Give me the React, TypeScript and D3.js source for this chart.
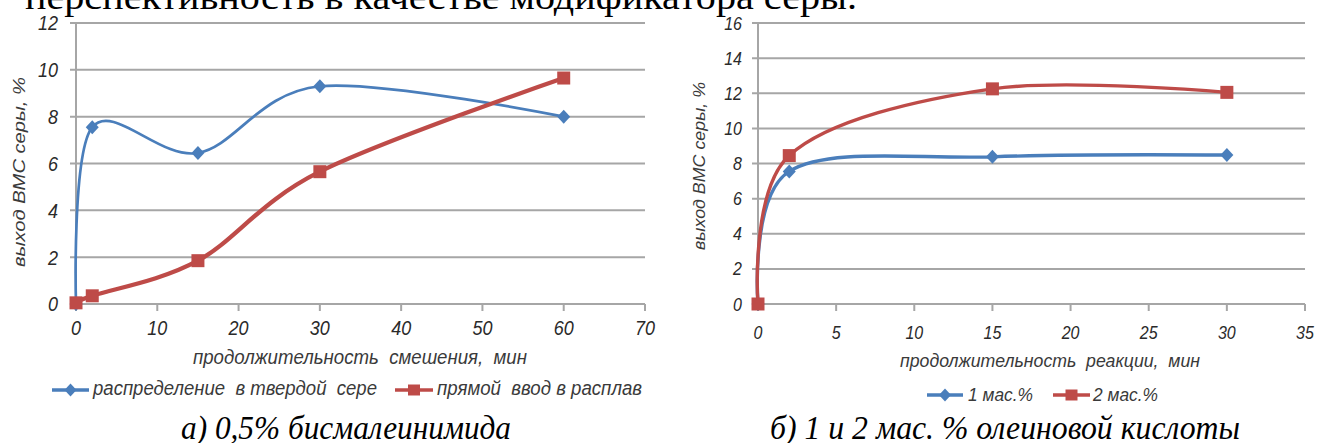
import { useEffect, useRef } from "react";
import * as d3 from "d3";

// panel а) 0,5% бисмалеинимида
const leftTimes = [0, 2, 15, 30, 60];
const leftSolid = [0, 7.55, 6.45, 9.3, 8.0];
const leftMelt = [0.05, 0.35, 1.85, 5.65, 9.65];
const leftXTicks = [0, 10, 20, 30, 40, 50, 60, 70];
const leftYTicks = [0, 2, 4, 6, 8, 10, 12];
const leftNames = ["распределение  в твердой  сере", "прямой  ввод в расплав"];

// panel б) олеиновая кислота
const rightTimes = [0, 2, 15, 30];
const rightOne = [0, 7.55, 8.38, 8.48];
const rightTwo = [0, 8.45, 12.25, 12.05];
const rightXTicks = [0, 5, 10, 15, 20, 25, 30, 35];
const rightYTicks = [0, 2, 4, 6, 8, 10, 12, 14, 16];
const rightNames = ["1 мас.%", "2 мас.%"];

const topLine = "перспективность в качестве модификатора серы.";
const captions = ["а) 0,5% бисмалеинимида", "б) 1 и 2 мас. % олеиновой кислоты"];

const BLUE = "#4a7ebb";
const RED = "#be4b48";
const GRID = "#a6a6a6";
const INK = "#3a3a3a";
const S = 1.15; // the picture is a bit stretched vertically

function addText(g, str, x, y, o = {}) {
  const rot = o.rotate;
  const t = g
    .append("text")
    .attr(
      "transform",
      rot
        ? `translate(${x},${y}) rotate(-90) scale(${S},1)`
        : `translate(${x},${y}) scale(1,${S})`
    )
    .attr("font-family", o.family || "'Liberation Sans', Arial, sans-serif")
    .attr("font-style", o.italic === false ? "normal" : "italic")
    .attr("font-size", o.size || 17)
    .attr("fill", o.fill || INK)
    .attr("text-anchor", o.anchor || "start")
    .style("white-space", "pre")
    .text(str);
  if (o.length) {
    t.attr("textLength", rot ? o.length / S : o.length).attr("lengthAdjust", "spacingAndGlyphs");
  }
  return t;
}

function diamond(w, h) {
  return `M0,${-h}L${w},0L0,${h}L${-w},0Z`;
}

function drawPanel(svg, p) {
  const x = d3.scaleLinear().domain([p.xTicks[0], p.xTicks[p.xTicks.length - 1]]).range([p.left, p.right]);
  const y = d3.scaleLinear().domain([p.yTicks[0], p.yTicks[p.yTicks.length - 1]]).range([p.bottom, p.top]);
  const g = svg.append("g");

  g.selectAll(".grid")
    .data(p.yTicks)
    .join("line")
    .attr("x1", p.left - 6)
    .attr("x2", p.right)
    .attr("y1", (d) => y(d))
    .attr("y2", (d) => y(d))
    .attr("stroke", GRID)
    .attr("stroke-width", 2);

  g.append("line")
    .attr("x1", p.left)
    .attr("x2", p.left)
    .attr("y1", y(p.yTicks[p.yTicks.length - 1]))
    .attr("y2", p.bottom)
    .attr("stroke", GRID)
    .attr("stroke-width", 2);

  g.selectAll(".xtick")
    .data(p.xTicks)
    .join("line")
    .attr("x1", (d) => x(d))
    .attr("x2", (d) => x(d))
    .attr("y1", p.bottom)
    .attr("y2", p.bottom + 7)
    .attr("stroke", GRID)
    .attr("stroke-width", 2);

  p.yTicks.forEach((v) => {
    addText(g, String(v), p.left - p.yLabelGap, y(v) + p.tickSize * 0.72 * S * 0.5, {
      anchor: "end",
      size: p.tickSize,
      fill: "#2a2a2a",
    });
  });
  p.xTicks.forEach((v) => {
    addText(g, String(v), x(v), p.xLabelBase, { anchor: "middle", size: p.tickSize, fill: "#2a2a2a" });
  });

  addText(g, p.xTitle, p.xTitleX, p.xTitleY, { size: p.titleSize, length: p.xTitleLen });
  addText(g, p.yTitle, p.yTitleX, p.yTitleY, { size: p.titleSize, rotate: true, anchor: "middle", length: p.yTitleLen });

  const line = d3
    .line()
    .x((d) => x(d[0]))
    .y((d) => y(d[1]))
    .curve(d3.curveCardinal.tension(0));

  p.series.forEach((s) => {
    const pts = p.times.map((t, i) => [t, s.values[i]]);
    g.append("path")
      .datum(pts)
      .attr("fill", "none")
      .attr("stroke", s.color)
      .attr("stroke-width", s.width)
      .attr("d", line);
    g.selectAll(null)
      .data(pts)
      .join("path")
      .attr("transform", (d) => `translate(${x(d[0])},${y(d[1])})`)
      .attr("d", s.marker === "diamond" ? diamond(6.5, 7) : "M-6.5,-6.5H6.5V6.5H-6.5Z")
      .attr("fill", s.color);

    // legend entry
    const lg = s.legend;
    g.append("line")
      .attr("x1", lg.x1)
      .attr("x2", lg.x2)
      .attr("y1", lg.y)
      .attr("y2", lg.y)
      .attr("stroke", s.color)
      .attr("stroke-width", 3.5);
    g.append("path")
      .attr("transform", `translate(${(lg.x1 + lg.x2) / 2},${lg.y})`)
      .attr("d", s.marker === "diamond" ? diamond(6, 6.5) : "M-6,-5.5H6V5.5H-6Z")
      .attr("fill", s.color);
    addText(g, s.name, lg.tx, lg.ty, { size: p.titleSize, length: lg.tlen });
  });
}

function Figure() {
  const ref = useRef();

  useEffect(() => {
    d3.select(ref.current).selectAll("*").remove();

    const svg = d3
      .select(ref.current)
      .append("svg")
      .attr("width", 1319)
      .attr("height", 443)
      .style("position", "fixed")
      .style("left", 0)
      .style("top", 0)
      .style("background", "#fff");

    addText(svg, topLine, 25, 8.5, {
      family: "'Liberation Serif', 'Times New Roman', serif",
      italic: false,
      size: 32,
      fill: "#000",
      length: 832,
    });

    drawPanel(svg, {
      left: 76,
      right: 645,
      top: 23,
      bottom: 304,
      times: leftTimes,
      xTicks: leftXTicks,
      yTicks: leftYTicks,
      tickSize: 18,
      titleSize: 17,
      yLabelGap: 18,
      xLabelBase: 335,
      xTitle: "продолжительность  смешения,  мин",
      xTitleX: 193,
      xTitleY: 364,
      xTitleLen: 334,
      yTitle: "выход ВМС серы, %",
      yTitleX: 25,
      yTitleY: 172,
      yTitleLen: 190,
      series: [
        {
          name: leftNames[0],
          values: leftSolid,
          color: BLUE,
          width: 2.7,
          marker: "diamond",
          legend: { x1: 52, x2: 89, y: 390, tx: 93, ty: 395, tlen: 284 },
        },
        {
          name: leftNames[1],
          values: leftMelt,
          color: RED,
          width: 4.3,
          marker: "square",
          legend: { x1: 395, x2: 433, y: 390, tx: 437, ty: 395, tlen: 205 },
        },
      ],
    });

    drawPanel(svg, {
      left: 758,
      right: 1305,
      top: 23,
      bottom: 304,
      times: rightTimes,
      xTicks: rightXTicks,
      yTicks: rightYTicks,
      tickSize: 16,
      titleSize: 16,
      yLabelGap: 16,
      xLabelBase: 339,
      xTitle: "продолжительность  реакции,  мин",
      xTitleX: 900,
      xTitleY: 367,
      xTitleLen: 300,
      yTitle: "выход ВМС серы, %",
      yTitleX: 705,
      yTitleY: 166,
      yTitleLen: 168,
      series: [
        {
          name: rightNames[0],
          values: rightOne,
          color: BLUE,
          width: 3.4,
          marker: "diamond",
          legend: { x1: 927, x2: 963, y: 395, tx: 968, ty: 401, tlen: 65 },
        },
        {
          name: rightNames[1],
          values: rightTwo,
          color: RED,
          width: 3.4,
          marker: "square",
          legend: { x1: 1053, x2: 1090, y: 395, tx: 1093, ty: 401, tlen: 65 },
        },
      ],
    });

    const serif = "'Liberation Serif', 'Times New Roman', serif";
    addText(svg, captions[0], 181, 439, { family: serif, size: 30, fill: "#000", length: 330 });
    addText(svg, captions[1], 770, 439, { family: serif, size: 30, fill: "#000", length: 470 });
  }, []);

  return <div ref={ref}></div>;
}

export default function App() {
  return <Figure />;
}
